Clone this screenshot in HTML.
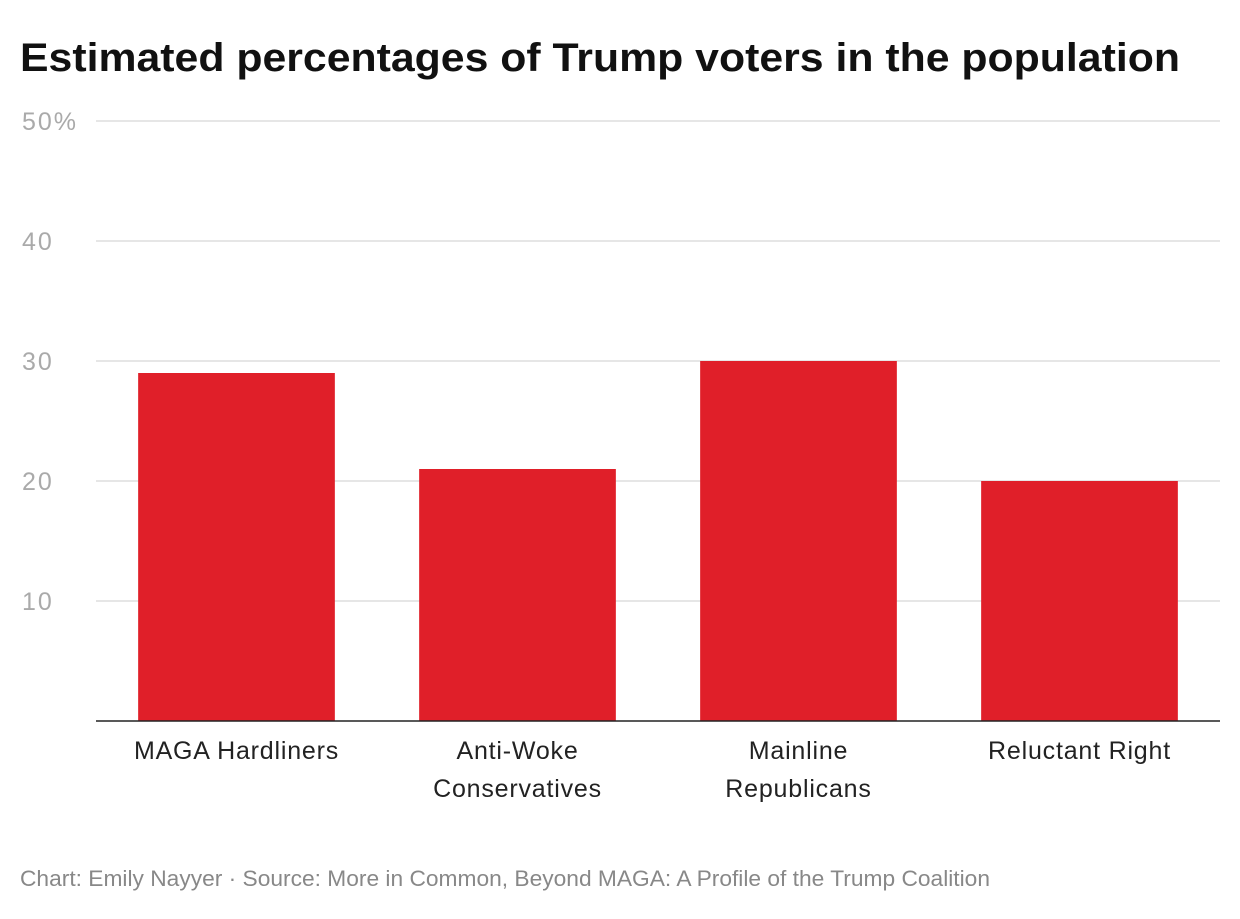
<!DOCTYPE html>
<html><head><meta charset="utf-8"><style>
body{margin:0;background:#fff;width:1240px;height:914px;overflow:hidden;font-family:"Liberation Sans",sans-serif}
</style></head><body>
<svg width="1240" height="914">
<text x="20" y="71" font-size="40" font-weight="bold" fill="#111" textLength="1160" lengthAdjust="spacingAndGlyphs">Estimated percentages of Trump voters in the population</text>
<g id="grid"></g><g id="bars"></g><g id="xl"></g>
<line x1="96" x2="1220" y1="721" y2="721" stroke="#222" stroke-width="1.5"/>
<text x="20" y="886" font-size="22" fill="#888" textLength="970" lengthAdjust="spacingAndGlyphs">Chart: Emily Nayyer · Source: More in Common, Beyond MAGA: A Profile of the Trump Coalition</text>
</svg>
<script>
const categories=[["MAGA Hardliners"],["Anti-Woke","Conservatives"],["Mainline","Republicans"],["Reluctant Right"]];
const values=[29,21,30,20];
const ticks=[10,20,30,40,50];
const tickLabels=["10","20","30","40","50%"];
const ns="http://www.w3.org/2000/svg";
const x0=96,x1=1220,y0=721,y1=121,maxV=50;
const y=v=>y0-(v/maxV)*(y0-y1);
const bw=(x1-x0)/categories.length;
function mk(t,a,p){const e=document.createElementNS(ns,t);for(const k in a)e.setAttribute(k,a[k]);p.appendChild(e);return e;}
const g=document.getElementById('grid');
ticks.forEach((t,i)=>{
 const l=mk('line',{x1:x0,x2:x1,y1:y(t),y2:y(t),stroke:'#ddd','stroke-width':1.5},g);
 
 
 const tx=mk('text',{x:22,y:y(t)+9,'font-size':25,fill:'#aaa','letter-spacing':2},g);tx.textContent=tickLabels[i];
 
 
});
const b=document.getElementById('bars'),xl=document.getElementById('xl');
values.forEach((v,i)=>{
 const bx=x0+i*bw+bw*0.15;
 const r=mk('rect',{x:bx,y:y(v),width:bw*0.7,height:y0-y(v),fill:'#e01f29'},b);
 
 
 const cx=x0+i*bw+bw/2;
 categories[i].forEach((s,j)=>{
  const t=mk('text',{x:cx,y:759+j*38,'font-size':25,fill:'#222','text-anchor':'middle','letter-spacing':0.8},xl);t.textContent=s;
  
  
 });
});
</script>
</body></html>
